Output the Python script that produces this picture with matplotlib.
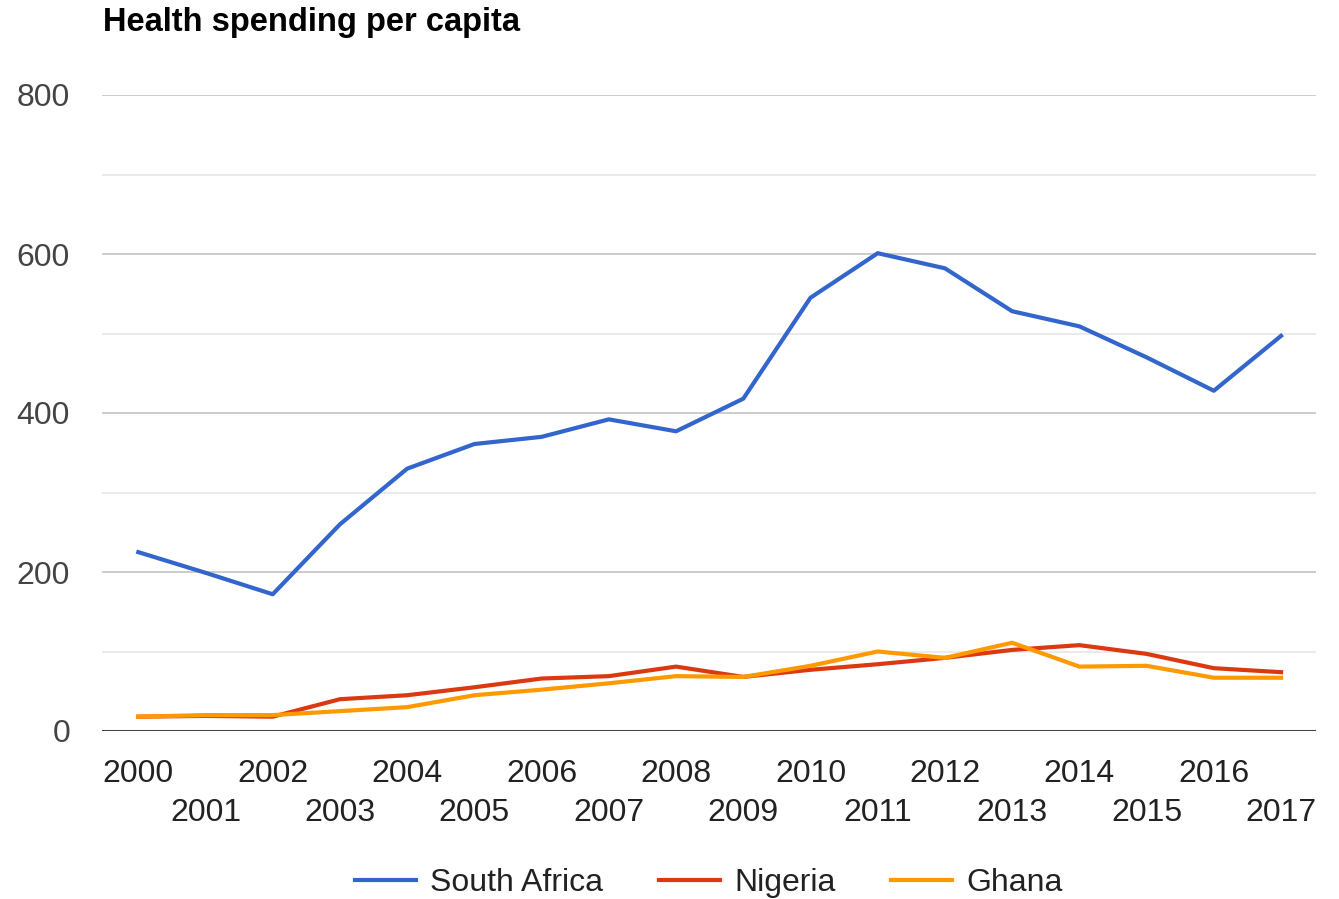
import matplotlib
matplotlib.use("Agg")
import matplotlib.pyplot as plt
from matplotlib.ticker import MultipleLocator, FixedLocator

plt.rcParams['font.family'] = ['Liberation Sans', 'DejaVu Sans']

years = list(range(2000, 2018))
south_africa = [225, 199, 172, 260, 330, 361, 370, 392, 377, 418,
                545, 601, 582, 528, 509, 470, 428, 497]
nigeria = [18, 19, 18, 40, 45, 55, 66, 69, 81, 68,
           77, 84, 92, 102, 108, 97, 79, 74]
ghana = [18, 20, 20, 25, 30, 45, 52, 60, 69, 68,
         82, 100, 92, 111, 81, 82, 67, 67]

series = [("South Africa", south_africa, "#3366cc"),
          ("Nigeria", nigeria, "#dc3912"),
          ("Ghana", ghana, "#ff9900")]

W, H = 1339, 899
fig = plt.figure(figsize=(W / 100, H / 100), dpi=100)
ax = fig.add_axes([102 / W, 1 - 731 / H, (1316 - 102) / W, (731 - 95) / H])

for name, vals, color in series:
    ax.plot(years, vals, color=color, lw=3.0, label=name,
            solid_joinstyle='round', zorder=3)

ax.set_ylim(0, 800)
ax.set_xlim(years[0] - 0.54, years[-1] + 0.52)

# gridlines: labelled every 200, lighter in between
ax.yaxis.set_major_locator(MultipleLocator(200))
ax.yaxis.set_minor_locator(FixedLocator([100, 300, 500, 700]))
ax.grid(axis='y', which='major', color='#cccccc', lw=1.4)
ax.grid(axis='y', which='minor', color='#ebebeb', lw=1.4)
ax.set_axisbelow(True)
ax.axhline(0, color='#444444', lw=2.2, zorder=4)

for s in ax.spines.values():
    s.set_visible(False)

ax.tick_params(axis='y', which='both', length=0, pad=23,
               labelsize=23, labelcolor='#444444')
ax.set_yticks([0, 200, 400, 600, 800])
ax.set_yticklabels(['0', '200', '400', '600', '800'])

ax.set_xticks(years)
ax.set_xticklabels([str(y) if (y - years[0]) % 2 == 0 else "\n" + str(y)
                    for y in years], linespacing=1.42)
ax.tick_params(axis='x', length=0, pad=20, labelsize=23,
               labelcolor='#222222')

fig.text(103 / W, 1 - 23 / H, "Health spending per capita",
         fontsize=23.5, fontweight='bold', color='#000000',
         ha='left', va='center')

fig.legend(loc='center', bbox_to_anchor=(709 / W, 1 - 883 / H), ncol=3,
           frameon=False, fontsize=23, handlelength=1.9,
           handletextpad=0.45, columnspacing=1.75, labelcolor='#222222')

fig.savefig("out.png", dpi=100)
